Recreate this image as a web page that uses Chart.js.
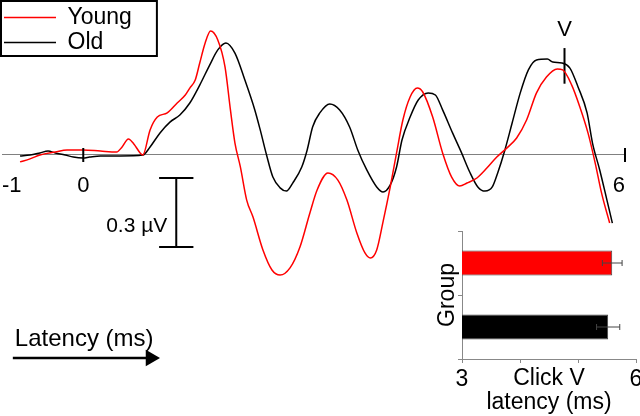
<!DOCTYPE html>
<html>
<head>
<meta charset="utf-8">
<title>Click ABR - young vs old</title>
<script src="https://cdn.jsdelivr.net/npm/chart.js@4.4.1/dist/chart.umd.min.js"></script>
<style>
  html, body { margin: 0; padding: 0; background: #fff; }
  #wrap { position: relative; width: 640px; height: 416px; overflow: hidden; }
  #abrChart { position: absolute; left: 0; top: 0; }
  #latencyChart { position: absolute; left: 420px; top: 225px; }
</style>
</head>
<body>
<div id="wrap">
  <canvas id="abrChart" width="640" height="416"></canvas>
  <canvas id="latencyChart" width="220" height="191"></canvas>
</div>
<script>
// --- Data: grand-average click ABR (time in ms, amplitude in µV) ---
const seriesNames = ['Young', 'Old'];

const youngTime = [-0.70, -0.59, -0.48, -0.31, -0.18, 0.00, 0.19, 0.37, 0.43, 0.50,
                   0.56, 0.63, 0.66, 0.74, 0.82, 0.93, 1.04, 1.13, 1.18, 1.24,
                   1.29, 1.35, 1.41, 1.49, 1.57, 1.63, 1.68, 1.74, 1.81, 1.88,
                   1.99, 2.09, 2.18, 2.29, 2.40, 2.51, 2.59, 2.71, 2.82, 2.92,
                   3.03, 3.12, 3.18, 3.25, 3.32, 3.40, 3.47, 3.54, 3.62, 3.70,
                   3.76, 3.87, 3.98, 4.08, 4.17, 4.25, 4.36, 4.47, 4.58, 4.69,
                   4.80, 4.91, 5.02, 5.13, 5.25, 5.31, 5.41, 5.50, 5.59, 5.67,
                   5.74, 5.83];
const youngAmp = [-0.030, -0.017, 0.000, 0.013, 0.022, 0.022, 0.017, 0.013, 0.035, 0.070,
                  0.048, 0.009, 0.000, 0.109, 0.165, 0.183, 0.226, 0.261, 0.291, 0.326,
                  0.400, 0.487, 0.539, 0.500, 0.383, 0.196, 0.052, -0.052, -0.196, -0.270,
                  -0.413, -0.500, -0.522, -0.491, -0.400, -0.252, -0.152, -0.078, -0.109, -0.196,
                  -0.339, -0.426, -0.448, -0.413, -0.291, -0.139, 0.009, 0.152, 0.252, 0.291,
                  0.274, 0.165, 0.009, -0.096, -0.135, -0.122, -0.100, -0.057, -0.009, 0.030,
                  0.074, 0.152, 0.270, 0.339, 0.374, 0.370, 0.304, 0.209, 0.096, -0.035,
                  -0.165, -0.296];

const oldTime = [-0.70, -0.59, -0.48, -0.39, -0.31, -0.20, -0.11, 0.00, 0.07, 0.19,
                 0.41, 0.66, 0.74, 0.85, 0.96, 1.07, 1.18, 1.29, 1.40, 1.49,
                 1.58, 1.68, 1.79, 1.90, 1.96, 2.03, 2.10, 2.18, 2.25, 2.32,
                 2.42, 2.48, 2.54, 2.62, 2.73, 2.84, 2.95, 3.04, 3.14, 3.25,
                 3.32, 3.40, 3.47, 3.53, 3.62, 3.71, 3.82, 3.90, 3.98, 4.09,
                 4.19, 4.28, 4.37, 4.45, 4.53, 4.59, 4.67, 4.75, 4.84, 4.93,
                 5.02, 5.14, 5.20, 5.30, 5.39, 5.48, 5.58, 5.64, 5.72, 5.80,
                 5.86];
const oldAmp = [-0.004, 0.000, 0.009, 0.017, 0.009, 0.000, -0.009, -0.013, -0.009, -0.004,
                -0.004, 0.000, 0.035, 0.096, 0.143, 0.174, 0.226, 0.304, 0.391, 0.457,
                0.487, 0.443, 0.326, 0.196, 0.109, 0.000, -0.096, -0.143, -0.157, -0.122,
                -0.052, 0.022, 0.122, 0.183, 0.222, 0.196, 0.122, 0.022, -0.065, -0.139,
                -0.161, -0.130, -0.052, 0.065, 0.165, 0.239, 0.270, 0.261, 0.196, 0.096,
                0.009, -0.074, -0.139, -0.157, -0.139, -0.078, 0.022, 0.139, 0.270, 0.370,
                0.413, 0.417, 0.404, 0.400, 0.378, 0.296, 0.183, 0.052, -0.065, -0.196,
                -0.296];

// x axis: the record starts just before -1 ms label position
const xTickValues = [-0.9, 0, 6];
const xTickLabels = ['-1', '0', '6'];

// wave V marker (ms, µV range)
const waveVTime = 5.33;
const waveVRange = [0.31, 0.465];

// 0.3 µV calibration bar
const calTime = 1.03;
const calTop = -0.1;
const calSize = 0.3;

// "Latency" arrow (ms) and its level (µV)
const arrowTimes = [-0.78, 0.745];
const arrowLevel = -0.883;

// --- Inset: click wave V latency by group ---
const groups = ['Young', 'Old'];
const waveVLatency = [5.59, 5.52];
const waveVSem = [0.17, 0.2];
const groupColors = ['#ff0000', '#000000'];

const FONT = '"Liberation Sans", Arial, Helvetica, sans-serif';
Chart.defaults.font.family = FONT;
Chart.defaults.color = '#000';

const xMin = -0.9, xMax = 6;
const yMin = -1.135, yMax = 0.674;
const calHalf = 0.19;

const toPoints = (ts, vs) => ts.map((t, i) => ({ x: t, y: vs[i] }));
const noScalePadding = s => { s.paddingLeft = 0; s.paddingRight = 0; s.paddingTop = 0; s.paddingBottom = 0; };

// --- plugins ---
const crossTicks = {
    id: 'crossTicks',
    afterDatasetsDraw(chart) {
        const { ctx, scales: { x, y } } = chart;
        const y0 = y.getPixelForValue(0);
        ctx.save();
        ctx.strokeStyle = '#000';
        ctx.lineWidth = 2;
        xTickValues.slice(1).forEach(v => {
            const px = x.getPixelForValue(v);
            ctx.beginPath();
            ctx.moveTo(px, y0 - 7);
            ctx.lineTo(px, y0 + 7);
            ctx.stroke();
        });
        ctx.restore();
    }
};

const legendFrame = {
    id: 'legendFrame',
    afterDraw(chart) {
        const lg = chart.legend;
        const boxes = lg && lg.legendHitBoxes;
        if (!boxes || !boxes.length) return;
        const ctx = chart.ctx;
        const right = Math.max(...boxes.map(b => b.left + b.width)) + 25;
        const last = boxes[boxes.length - 1];
        const bottom = last.top + last.height + 2;
        ctx.save();
        ctx.strokeStyle = '#000';
        ctx.lineWidth = 2;
        ctx.strokeRect(1, 1, right - 1, bottom - 1);
        ctx.restore();
    }
};

const figureText = {
    id: 'figureText',
    afterDraw(chart) {
        const { ctx, scales: { x, y } } = chart;
        ctx.save();
        ctx.fillStyle = '#000';
        ctx.textBaseline = 'middle';

        ctx.font = '21px ' + FONT;
        ctx.textAlign = 'right';
        ctx.fillText('0.3 \u00B5V', x.getPixelForValue(calTime) - 9, y.getPixelForValue(calTop - calSize * 0.7));

        ctx.font = '22px ' + FONT;
        ctx.textAlign = 'center';
        ctx.fillText('V', x.getPixelForValue(waveVTime), y.getPixelForValue(waveVRange[1]) - 18);

        ctx.font = '24px ' + FONT;
        ctx.textAlign = 'left';
        ctx.fillText('Latency (ms)', x.getPixelForValue(arrowTimes[0]) + 2, y.getPixelForValue(arrowLevel) - 19);
        ctx.restore();
    }
};

new Chart(document.getElementById('abrChart'), {
    type: 'line',
    data: {
        datasets: [
            { label: seriesNames[0], data: toPoints(youngTime, youngAmp), borderColor: '#ff0000', borderWidth: 1.5, pointRadius: 0, cubicInterpolationMode: 'monotone' },
            { label: seriesNames[1], data: toPoints(oldTime, oldAmp), borderColor: '#000000', borderWidth: 1.5, pointRadius: 0, cubicInterpolationMode: 'monotone' },
            {
                label: 'cal',
                data: [
                    { x: calTime - calHalf, y: calTop }, { x: calTime + calHalf, y: calTop },
                    { x: calTime, y: calTop }, { x: calTime, y: calTop - calSize },
                    { x: calTime - calHalf, y: calTop - calSize }, { x: calTime + calHalf, y: calTop - calSize }
                ],
                borderColor: '#000', borderWidth: 2, pointRadius: 0
            },
            {
                label: 'waveV',
                data: [{ x: waveVTime, y: waveVRange[0] }, { x: waveVTime, y: waveVRange[1] }],
                borderColor: '#000', borderWidth: 2, pointRadius: 0
            },
            {
                label: 'arrow',
                data: arrowTimes.map(t => ({ x: t, y: arrowLevel })),
                borderColor: '#000', borderWidth: 2.5,
                pointRadius: [0, 9.5], pointStyle: 'triangle', pointRotation: 90,
                pointBackgroundColor: '#000', pointBorderColor: '#000', pointBorderWidth: 0
            }
        ]
    },
    options: {
        responsive: false,
        animation: false,
        events: [],
        layout: { autoPadding: false, padding: { left: 2, right: 15, top: 0, bottom: 0 } },
        plugins: {
            legend: {
                position: 'chartArea',
                align: 'start',
                // empty title used only as a small spacer above the entries
                title: { display: true, text: ' ', font: { size: 1, lineHeight: 1 }, padding: { top: 0, bottom: 3 } },
                labels: {
                    usePointStyle: true,
                    pointStyle: 'line',
                    pointStyleWidth: 52,
                    padding: 2,
                    color: '#000',
                    font: { size: 23 },
                    filter: item => item.datasetIndex < 2
                }
            },
            tooltip: { enabled: false }
        },
        scales: {
            x: {
                type: 'linear',
                min: xMin,
                max: xMax,
                position: { y: 0 },
                afterBuildTicks: axis => { axis.ticks = xTickValues.map(v => ({ value: v })); },
                afterFit: noScalePadding,
                ticks: {
                    callback: (value, index) => xTickLabels[index],
                    align: 'inner',
                    font: { size: 22 },
                    color: '#000',
                    padding: 18,
                    maxRotation: 0,
                    autoSkip: false
                },
                grid: { display: true, drawOnChartArea: false, drawTicks: false },
                border: { display: true, color: '#808080', width: 1 }
            },
            y: { type: 'linear', min: yMin, max: yMax, display: false, afterFit: noScalePadding }
        }
    },
    plugins: [crossTicks, legendFrame, figureText]
});

// --- inset bar chart ---
const errorBars = {
    id: 'errorBars',
    afterDatasetsDraw(chart) {
        const { ctx, scales: { x } } = chart;
        const meta = chart.getDatasetMeta(0);
        ctx.save();
        ctx.strokeStyle = '#444';
        ctx.lineWidth = 1;
        meta.data.forEach((bar, i) => {
            const lo = x.getPixelForValue(waveVLatency[i] - waveVSem[i]);
            const hi = x.getPixelForValue(waveVLatency[i] + waveVSem[i]);
            ctx.beginPath();
            ctx.moveTo(lo, bar.y); ctx.lineTo(hi, bar.y);
            ctx.moveTo(lo, bar.y - 3); ctx.lineTo(lo, bar.y + 3);
            ctx.moveTo(hi, bar.y - 3); ctx.lineTo(hi, bar.y + 3);
            ctx.stroke();
        });
        ctx.restore();
    }
};

new Chart(document.getElementById('latencyChart'), {
    type: 'bar',
    data: {
        labels: groups,
        datasets: [{
            data: waveVLatency,
            backgroundColor: groupColors,
            borderColor: '#444',
            borderWidth: 1,
            categoryPercentage: 1,
            barPercentage: 0.39
        }]
    },
    options: {
        indexAxis: 'y',
        responsive: false,
        animation: false,
        events: [],
        layout: { autoPadding: false, padding: { top: 6, right: 4, left: 0, bottom: 0 } },
        plugins: { legend: { display: false }, tooltip: { enabled: false } },
        scales: {
            x: {
                min: 3,
                max: 6,
                ticks: {
                    stepSize: 1,
                    callback: v => (v === 3 || v === 6) ? v : '',
                    font: { size: 23, lineHeight: 1.05 },
                    color: '#000',
                    padding: 5,
                    maxRotation: 0,
                    autoSkip: false
                },
                grid: { drawOnChartArea: false, tickLength: 4, color: '#888' },
                border: { color: '#888' },
                title: {
                    display: true,
                    text: ['Click V', 'latency (ms)'],
                    font: { size: 23, lineHeight: 1.05 },
                    color: '#000',
                    padding: { top: 0, bottom: 1 }
                },
                afterFit: s => { s.height = 57; noScalePadding(s); }
            },
            y: {
                ticks: { display: false },
                grid: { drawOnChartArea: false, tickLength: 4, offset: true, color: '#888' },
                border: { color: '#888' },
                title: {
                    display: true,
                    text: 'Group',
                    font: { size: 23, lineHeight: 1.05 },
                    color: '#000',
                    padding: { top: 16, bottom: 0 }
                },
                afterFit: s => { s.width = 42; noScalePadding(s); }
            }
        }
    },
    plugins: [errorBars]
});
</script>
</body>
</html>
